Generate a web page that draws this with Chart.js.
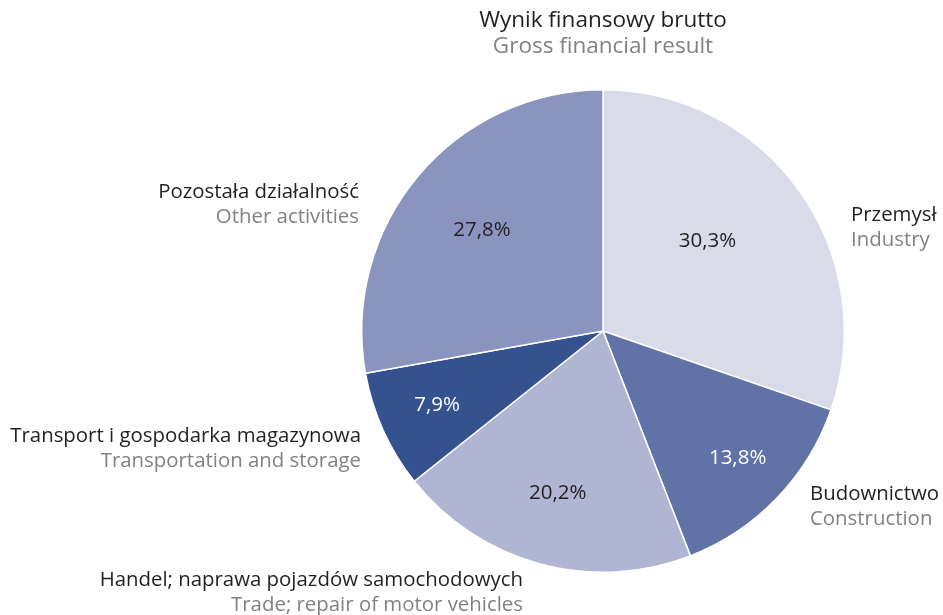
<!DOCTYPE html>
<html>
<head>
<meta charset="utf-8">
<script src="https://cdn.jsdelivr.net/npm/chart.js@4.4.1/dist/chart.umd.min.js"></script>
<style>
  html, body { margin: 0; padding: 0; background: #ffffff; }
  #wrap { width: 943px; height: 615px; position: relative; }
</style>
</head>
<body>
<div id="wrap"><canvas id="c" width="943" height="615"></canvas></div>
<script>
// ---- data ----
const titlePl = "Wynik finansowy brutto";
const titleEn = "Gross financial result";
const categoriesPl = ["Przemysł", "Budownictwo", "Handel; naprawa pojazdów samochodowych", "Transport i gospodarka magazynowa", "Pozostała działalność"];
const categoriesEn = ["Industry", "Construction", "Trade; repair of motor vehicles", "Transportation and storage", "Other activities"];
const shares = [30.3, 13.8, 20.2, 7.9, 27.8];

// ---- styles ----
const sliceColors = ["#d9dbe9", "#6072a6", "#b0b5d3", "#33528e", "#8a94bf"];
const pctColors = ["#231f20", "#ffffff", "#231f20", "#ffffff", "#231f20"];
// percent label position relative to centre, in units of radius
const pctOffsets = [[0.433, -0.371], [0.558, 0.525], [-0.1875, 0.671], [-0.6875, 0.306], [-0.502, -0.417]];
// outer label anchors relative to centre (px), alignment
const outerLabels = [
  { dx: 248, dy: -116, align: "left" },
  { dx: 207, dy: 163, align: "left" },
  { dx: -80, dy: 249, align: "right" },
  { dx: -242, dy: 105, align: "right" },
  { dx: -244, dy: -139, align: "right" }
];
const FONT = "'Open Sans', 'Noto Sans', sans-serif";
const darkText = "#231f20";
const greyText = "#808285";

const labelPlugin = {
  id: "labels",
  afterDatasetsDraw(chart) {
    const ctx = chart.ctx;
    const arc0 = chart.getDatasetMeta(0).data[0];
    const cx = arc0.x, cy = arc0.y, r = arc0.outerRadius;
    ctx.save();
    ctx.textBaseline = "middle";
    // title
    ctx.textAlign = "center";
    ctx.font = "22.5px " + FONT;
    ctx.fillStyle = darkText;
    ctx.fillText(titlePl, cx, cy - 310);
    ctx.fillStyle = greyText;
    ctx.fillText(titleEn, cx, cy - 284);
    // percent labels
    shares.forEach((v, i) => {
      const [ox, oy] = pctOffsets[i];
      ctx.fillStyle = pctColors[i];
      ctx.font = "20.5px " + FONT;
      ctx.textAlign = "center";
      ctx.fillText(v.toFixed(1).replace(".", ",") + "%", cx + ox * r, cy + oy * r);
    });
    // outer labels
    outerLabels.forEach((l, i) => {
      ctx.textAlign = l.align;
      ctx.font = "20.4px " + FONT;
      ctx.fillStyle = darkText;
      ctx.fillText(categoriesPl[i], cx + l.dx, cy + l.dy);
      ctx.fillStyle = greyText;
      ctx.fillText(categoriesEn[i], cx + l.dx, cy + l.dy + 25);
    });
    ctx.restore();
  }
};

new Chart(document.getElementById("c"), {
  type: "pie",
  data: {
    labels: categoriesPl,
    datasets: [{
      data: shares,
      backgroundColor: sliceColors,
      borderColor: "#ffffff",
      borderWidth: 1.5
    }]
  },
  options: {
    responsive: false,
    animation: false,
    layout: { padding: { left: 361, right: 98, top: 89, bottom: 42 } },
    plugins: {
      legend: { display: false },
      tooltip: { enabled: false },
      title: { display: false }
    }
  },
  plugins: [labelPlugin]
});
</script>
</body>
</html>
